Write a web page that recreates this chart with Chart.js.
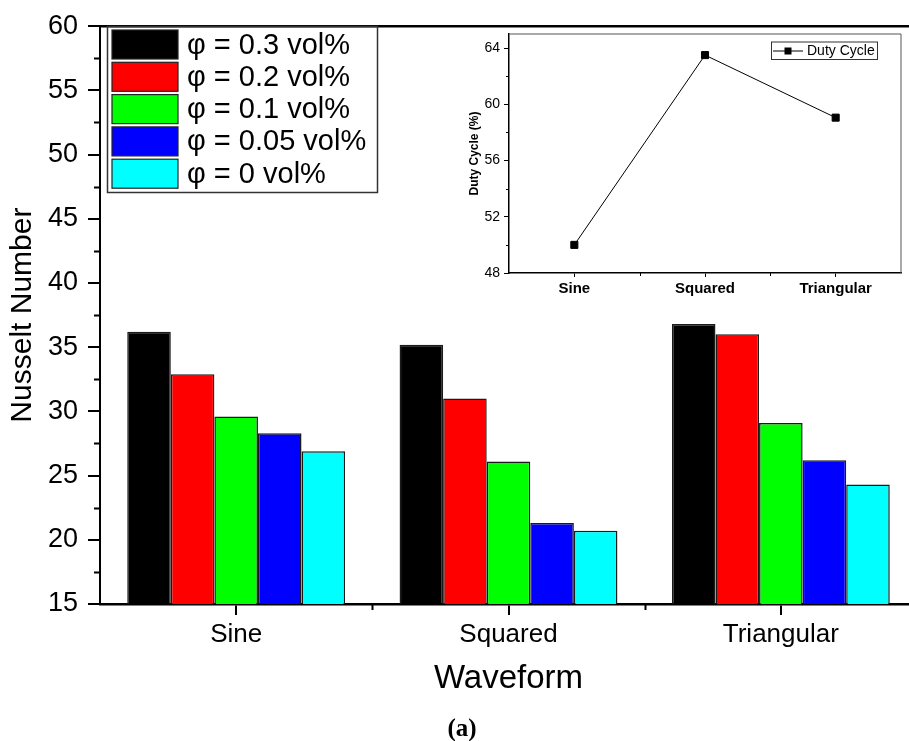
<!DOCTYPE html>
<html>
<head>
<meta charset="utf-8">
<script src="https://cdn.jsdelivr.net/npm/chart.js@4.4.1/dist/chart.umd.min.js"></script>
<style>
  html, body { margin: 0; padding: 0; background: #fff; overflow: hidden; }
  #wrap { position: relative; width: 909px; height: 741px; overflow: hidden; }
  #main { position: absolute; left: 0; top: 0; }
  #inset { position: absolute; left: 440px; top: 20px; }
</style>
</head>
<body>
<div id="wrap">
  <canvas id="main" width="930" height="741"></canvas>
  <canvas id="inset" width="469" height="290"></canvas>
</div>
<script>
const waveforms = ["Sine", "Squared", "Triangular"];
const seriesLabels = ["φ = 0.3 vol%", "φ = 0.2 vol%", "φ = 0.1 vol%", "φ = 0.05 vol%", "φ = 0 vol%"];
const nu03 = [36.2, 35.2, 36.8];
const nu02 = [32.9, 31.0, 36.0];
const nu01 = [29.6, 26.1, 29.1];
const nu005 = [28.3, 21.3, 26.2];
const nu0 = [26.9, 20.7, 24.3];
const barColors = ["#000000", "#ff0000", "#00ff00", "#0000ff", "#00ffff"];
const dutyCycle = [50.0, 63.5, 59.05];

const font = "Liberation Sans";

// minor ticks + top/right frame
function framePlugin(id, opts) {
  return {
    id: id,
    afterDraw(chart) {
      const { ctx, chartArea: a, scales: { x, y } } = chart;
      ctx.save();
      ctx.strokeStyle = opts.frameColor;
      ctx.lineWidth = opts.frameWidth;
      ctx.beginPath();
      ctx.moveTo(a.left, a.top);
      ctx.lineTo(a.right, a.top);
      ctx.lineTo(a.right, a.bottom);
      ctx.stroke();

      ctx.strokeStyle = "#000";
      ctx.lineWidth = opts.tickWidth;
      ctx.beginPath();
      for (let v = y.min + opts.yMinor; v < y.max; v += opts.yMinor * 2) {
        const py = Math.round(y.getPixelForValue(v)) + 0.5;
        ctx.moveTo(a.left, py);
        ctx.lineTo(a.left - opts.minorLen, py);
      }
      const half = (x.getPixelForValue(1) - x.getPixelForValue(0)) / 2;
      for (let i = 0; i < waveforms.length - 1; i++) {
        const px = Math.round(x.getPixelForValue(i) + half) + 0.5;
        ctx.moveTo(px, a.bottom);
        ctx.lineTo(px, a.bottom + opts.minorLen);
      }
      ctx.stroke();
      ctx.restore();
    }
  };
}

const mainLegend = {
  id: "mainLegend",
  afterDraw(chart) {
    const ctx = chart.ctx;
    ctx.save();
    ctx.strokeStyle = "#333";
    ctx.lineWidth = 1.5;
    ctx.strokeRect(107.5, 26.5, 270, 166);
    ctx.font = "29px '" + font + "'";
    ctx.textBaseline = "middle";
    ctx.lineWidth = 1.2;
    chart.data.datasets.forEach((ds, i) => {
      const top = 30 + i * 32.3;
      ctx.fillStyle = ds.backgroundColor;
      ctx.fillRect(112, top, 66, 29);
      ctx.strokeStyle = "#222";
      ctx.strokeRect(112, top, 66, 29);
      ctx.fillStyle = "#000";
      ctx.fillText(ds.label, 187, top + 15.5);
    });
    ctx.font = "bold 25px 'Liberation Serif'";
    ctx.textAlign = "center";
    ctx.fillText("(a)", 462, 730);
    ctx.restore();
  }
};

const seriesValues = [nu03, nu02, nu01, nu005, nu0];

new Chart(document.getElementById("main"), {
  type: "bar",
  data: {
    labels: waveforms,
    datasets: seriesValues.map((vals, i) => ({
      label: seriesLabels[i],
      data: vals,
      backgroundColor: barColors[i],
      borderColor: "#1a1a1a",
      borderWidth: 1.5,
      borderSkipped: false,
      categoryPercentage: 0.8,
      barPercentage: 1.0
    }))
  },
  options: {
    responsive: false,
    animation: false,
    devicePixelRatio: 1,
    layout: { padding: { top: 23, right: 13, bottom: 0, left: 0 } },
    plugins: { legend: { display: false }, tooltip: { enabled: false } },
    scales: {
      x: {
        offset: true,
        grid: { offset: false, drawOnChartArea: false, drawTicks: true, tickLength: 11, color: "#000", lineWidth: 2 },
        border: { display: true, color: "#000", width: 2.5 },
        ticks: { color: "#000", font: { family: font, size: 26 }, padding: 4 },
        title: { display: true, text: "Waveform", color: "#000", font: { family: font, size: 33 }, padding: { top: 0, bottom: 42 } },
        afterFit: (s) => { s.height = 137; }
      },
      y: {
        min: 15,
        max: 60,
        grid: { drawOnChartArea: false, drawTicks: true, tickLength: 12, color: "#000", lineWidth: 2 },
        border: { display: true, color: "#000", width: 2 },
        ticks: { stepSize: 5, color: "#000", font: { family: font, size: 27 }, padding: 10 },
        title: { display: true, text: "Nusselt Number", color: "#000", font: { family: font, size: 30 }, padding: { top: 5, bottom: 0 } },
        afterFit: (s) => { s.width = 100; }
      }
    }
  },
  plugins: [framePlugin("mainFrame", { frameColor: "#000", frameWidth: 2.5, tickWidth: 2, yMinor: 2.5, minorLen: 6 }), mainLegend]
});

const insetLegend = {
  id: "insetLegend",
  afterDraw(chart) {
    const ctx = chart.ctx;
    const ds = chart.data.datasets[0];
    ctx.save();
    ctx.strokeStyle = "#333";
    ctx.lineWidth = 1;
    ctx.strokeRect(331.5, 22, 106, 17.5);
    ctx.strokeStyle = "#000";
    ctx.beginPath();
    ctx.moveTo(333, 31);
    ctx.lineTo(363, 31);
    ctx.stroke();
    ctx.fillStyle = "#000";
    ctx.fillRect(344.5, 27.5, 7, 7);
    ctx.font = "14px '" + font + "'";
    ctx.textBaseline = "middle";
    ctx.fillText(ds.label, 367, 31.5);
    ctx.restore();
  }
};

new Chart(document.getElementById("inset"), {
  type: "line",
  data: {
    labels: waveforms,
    datasets: [{
      label: "Duty Cycle",
      data: dutyCycle,
      borderColor: "#000",
      borderWidth: 1,
      pointStyle: "rect",
      pointRadius: 5,
      pointBackgroundColor: "#000",
      pointBorderColor: "#000",
      tension: 0
    }]
  },
  options: {
    responsive: false,
    animation: false,
    devicePixelRatio: 1,
    layout: { padding: { top: 14, right: 8, bottom: 0, left: 0 } },
    plugins: { legend: { display: false }, tooltip: { enabled: false } },
    scales: {
      x: {
        offset: true,
        grid: { offset: false, drawOnChartArea: false, drawTicks: true, tickLength: 4, color: "#000", lineWidth: 1 },
        border: { display: true, color: "#000", width: 1.5 },
        ticks: { color: "#000", font: { family: font, size: 15, weight: "bold" }, padding: 3 },
        afterFit: (s) => { s.height = 37; }
      },
      y: {
        min: 48,
        max: 65,
        grid: { drawOnChartArea: false, drawTicks: true, tickLength: 5, color: "#000", lineWidth: 1 },
        border: { display: true, color: "#000", width: 1.5 },
        ticks: { stepSize: 4, includeBounds: false, color: "#000", font: { family: font, size: 14 }, padding: 4 },
        title: { display: true, text: "Duty Cycle (%)", color: "#000", font: { family: font, size: 12, weight: "bold" }, padding: { top: 27, bottom: 0 } },
        afterFit: (s) => { s.width = 69; }
      }
    }
  },
  plugins: [framePlugin("insetFrame", { frameColor: "#555", frameWidth: 1, tickWidth: 1, yMinor: 2, minorLen: 3 }), insetLegend]
});
</script>
</body>
</html>
